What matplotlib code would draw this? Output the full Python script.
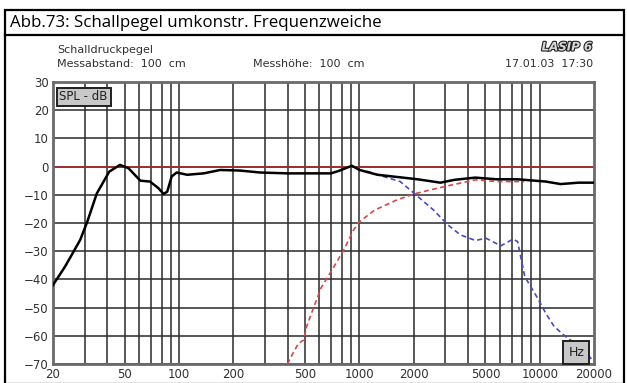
import numpy as np
import matplotlib
matplotlib.use("Agg")
import matplotlib.pyplot as plt
import matplotlib.patheffects as pe
from matplotlib.patches import Rectangle

# Gesamtpegel (schwarz)
freq_total = [20, 23.3, 25.4, 28.3, 31, 35, 41, 47, 52.5, 61, 69, 77, 82, 86, 91, 97,
              111, 137, 169, 218, 282, 400, 613, 695, 763, 909, 1003, 1261, 1684,
              2104, 2813, 3358, 4397, 5758, 7541, 10800, 13050, 16370, 20000]
spl_total = [-42, -35.5, -31.3, -26, -19.5, -9.5, -1.8, 0.6, -0.6, -5, -5.3, -7.7, -9.7,
             -8.9, -3.5, -2.1, -2.9, -2.4, -1.2, -1.4, -2.1, -2.4, -2.4, -2.4, -1.6, 0.3,
             -1.2, -2.9, -3.8, -4.5, -5.7, -4.7, -3.9, -4.5, -4.5, -5.3, -6.2, -5.7, -5.7]

# Hochton (rot gestrichelt)
freq_high = [399, 430, 460, 492, 510, 534, 613, 723, 820, 930, 1003, 1217, 1616, 2006,
             2577, 3100, 4397, 5758, 7541, 8200]
spl_high = [-70, -66, -62.6, -61.5, -56.7, -53.2, -43, -35.5, -29.5, -22.4, -19.5, -15.4,
            -11.8, -9.7, -8, -6.8, -4.7, -5.3, -5.3, -5.3]

# Tiefmitteltoner (blau gestrichelt)
freq_low = [1100, 1261, 1684, 2006, 2577, 3100, 3630, 4397, 5037, 6093, 7110, 7541, 8260,
            9620, 10800, 12020, 14290, 17000, 19500]
spl_low = [-1.6, -2.9, -5.3, -9.4, -15.4, -20.7, -24.2, -26.2, -25.4, -28.1, -25.7, -26.6,
           -39, -46.1, -52, -56.7, -60.9, -63.8, -68.5]

x_ticks = [20, 50, 100, 200, 500, 1000, 2000, 5000, 10000, 20000]
x_grid = [30, 40, 50, 60, 70, 80, 90, 100, 200, 300, 400, 500, 600, 700, 800, 900,
          1000, 2000, 3000, 4000, 5000, 6000, 7000, 8000, 9000, 10000]
y_ticks = [-70, -60, -50, -40, -30, -20, -10, 0, 10, 20, 30]

W, H = 627, 383
fig = plt.figure(figsize=(W / 100, H / 100), dpi=100)
plt.rcParams['font.family'] = ['DejaVu Sans']

def px(x, y):
    return x / W, 1 - y / H

# outer frame and title bar
fig.add_artist(Rectangle(px(5, 384), 619 / W, 374 / H, fill=False, lw=1.6,
                         ec='black', transform=fig.transFigure))
fig.add_artist(plt.Line2D([5 / W, 624 / W], [1 - 35 / H] * 2, lw=1.6, color='black',
                          transform=fig.transFigure))
fig.text(*px(10, 23), "Abb.73: Schallpegel umkonstr. Frequenzweiche", fontsize=12.2,
         family='Open Sans', va='center', ha='left')

ax = fig.add_axes([53 / W, 1 - 364 / H, (594 - 53) / W, (364 - 82) / H])
ax.set_xscale('log')
ax.set_xlim(20, 20000)
ax.set_ylim(-70, 30)

for f in x_grid:
    ax.axvline(f, color='#2a2a2a', lw=1.1, zorder=1)
for v in y_ticks:
    ax.axhline(v, color='#2a2a2a', lw=1.1, zorder=1)
ax.axhline(0, color='#b02828', lw=1.2, zorder=2)

ax.plot(freq_high, spl_high, color='#d84848', lw=1.2, ls=(0, (3, 2)), zorder=3)
ax.plot(freq_low, spl_low, color='#4848c8', lw=1.2, ls=(0, (3, 2)), zorder=3)
ax.plot(freq_total, spl_total, color='black', lw=1.8, zorder=4)

ax.set_xticks(x_ticks)
ax.set_xticklabels([str(t) for t in x_ticks])
ax.xaxis.set_minor_locator(matplotlib.ticker.NullLocator())
ax.set_yticks(y_ticks)
ax.tick_params(length=0, labelsize=8.5, colors='#303030', pad=3)
for s in ax.spines.values():
    s.set_color('#6a6a6a')
    s.set_linewidth(2)

ax.text(0.012, 0.97, "SPL - dB", transform=ax.transAxes, fontsize=8.5, va='top', ha='left',
        color='#202020', zorder=6,
        bbox=dict(boxstyle='square,pad=0.25', fc='#c8c8c8', ec='#202020', lw=1.4))
ax.text(0.982, 0.018, "Hz", transform=ax.transAxes, fontsize=9, va='bottom', ha='right',
        color='#202020', zorder=6,
        bbox=dict(boxstyle='square,pad=0.4', fc='#c8c8c8', ec='#202020', lw=1.4))

fig.text(*px(57, 50), "Schalldruckpegel", fontsize=8, color='#303030', va='center')
fig.text(*px(57, 64), "Messabstand:  100  cm", fontsize=8, color='#303030', va='center')
fig.text(*px(253, 64), "Messhöhe:  100  cm", fontsize=8, color='#303030', va='center')
fig.text(*px(593, 64), "17.01.03  17:30", fontsize=8, color='#303030', va='center',
         ha='right')
fig.text(*px(592, 47), "LASIP 6", fontsize=8.5, color='#d8d8d8', va='center', ha='right',
         fontweight='bold', fontstyle='italic',
         path_effects=[pe.withStroke(linewidth=1.6, foreground='#202020')])

fig.savefig("out.png", dpi=100)
